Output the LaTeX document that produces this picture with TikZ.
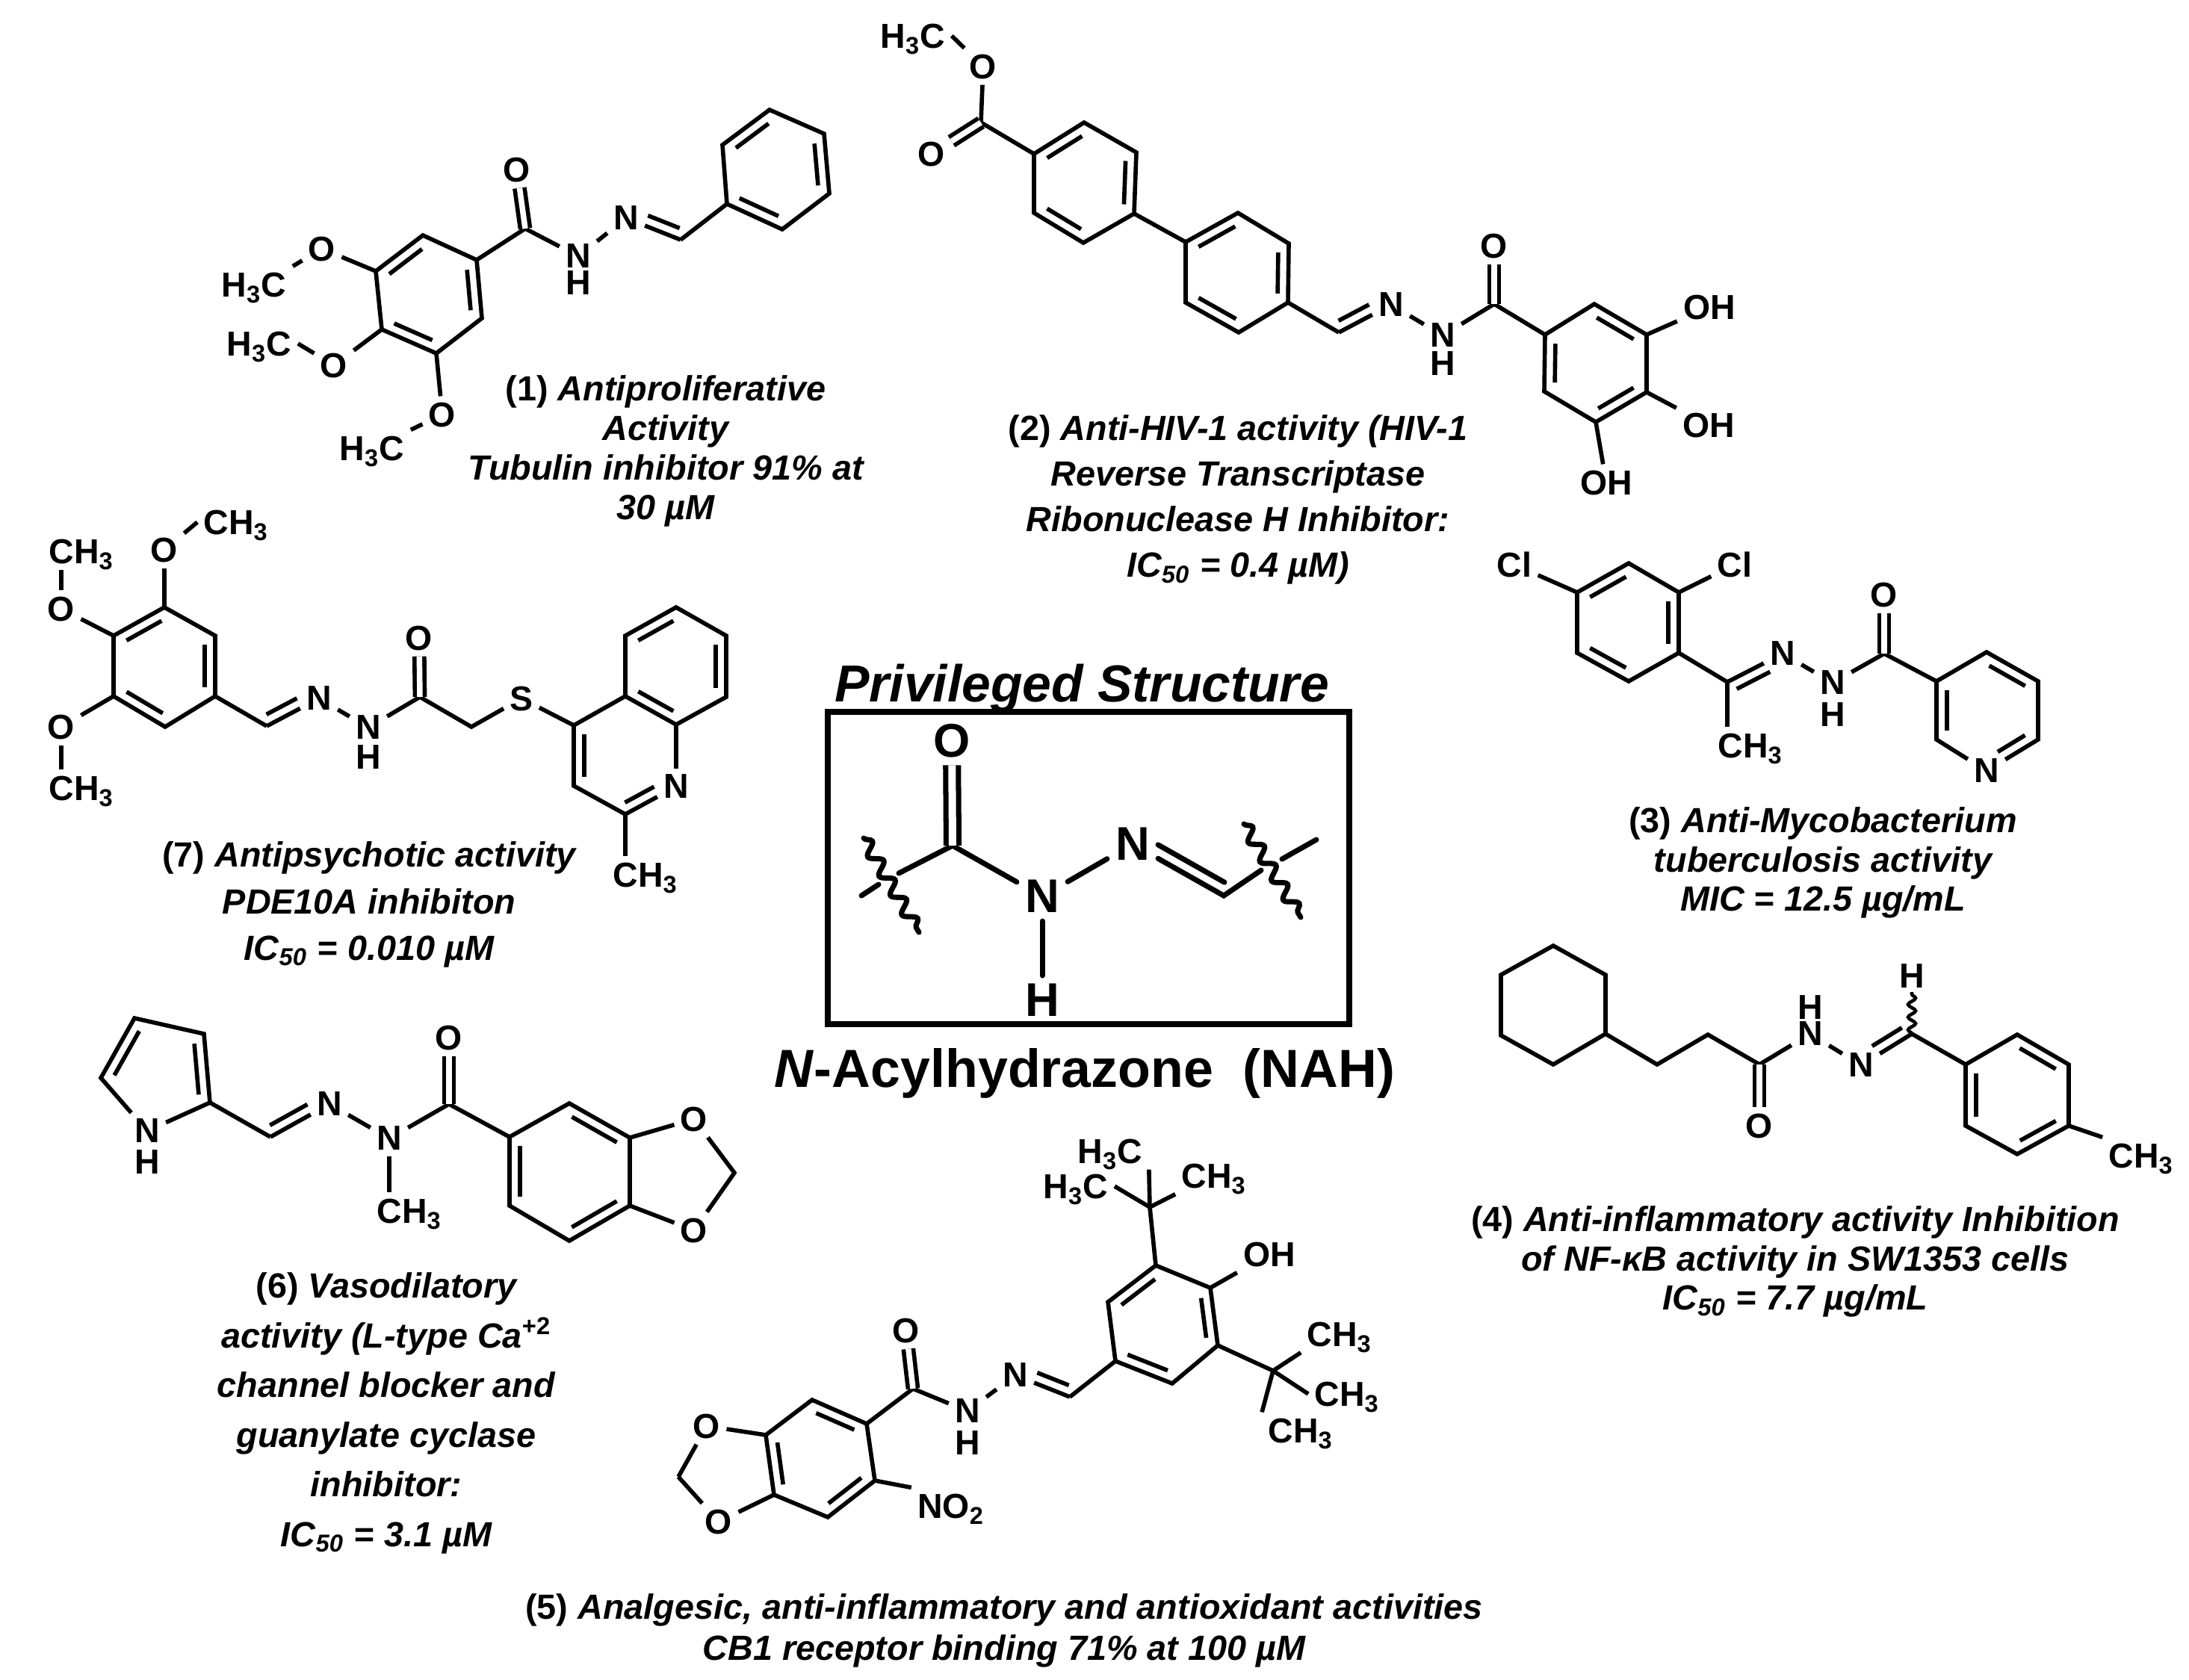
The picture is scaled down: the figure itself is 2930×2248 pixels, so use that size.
\documentclass[tikz,border=0pt]{standalone}
\usepackage{fontspec}
\setmainfont{Liberation Sans}
\usetikzlibrary{calc, decorations.pathmorphing}
\tikzset{
  bond/.style = {line width=1.6pt, line join=miter},
  dblbond/.style = {bond, double, double distance=.075cm},
  thickbond/.style = {line width=2pt, line cap=round},
  wavy/.style = {line width=2pt, line cap=round, decorate, decoration={snake, amplitude=.08cm, segment length=.3cm}},
  atom/.style = {inner sep=2.2pt, text depth=0pt, font=\fontsize{13.2}{14}\selectfont\bfseries},
  bigatom/.style = {inner sep=3pt, text depth=0pt, font=\fontsize{18}{20}\selectfont\bfseries},
  note/.style = {align=center, inner sep=0pt, font=\fontsize{13.3}{#1}\selectfont\bfseries\itshape}
}
\newcommand{\hexring}[7]{
  \coordinate (#11) at (#2); \coordinate (#12) at (#3); \coordinate (#13) at (#4);
  \coordinate (#14) at (#5); \coordinate (#15) at (#6); \coordinate (#16) at (#7);
  \draw [bond] (#11) -- (#12) -- (#13) -- (#14) -- (#15) -- (#16) -- cycle;
}
\newcommand{\inbond}[3][]{\draw [bond, shorten <=.12cm, shorten >=.12cm, #1]
  ($(#2)!.14cm!-90:(#3)$) -- ($(#3)!.14cm!90:(#2)$);}
\newcommand{\imine}[2]{\draw [bond] (#1) -- (#2);
  \inbond[shorten <=.07cm, shorten >=.26cm]{#1}{#2}}
\newcommand{\imineup}[2]{\draw [bond] (#1) -- (#2);
  \inbond[shorten <=.26cm, shorten >=.07cm]{#2}{#1}}
\newcommand{\sbs}[1]{\textsubscript{#1}}
\begin{document}
\begin{tikzpicture}[x=.01cm, y=-.01cm]
\useasboundingbox (0,0) rectangle (2930,2248);

% compound 1
\hexring{A}{566,315}{638,348}{645,426}{584,473}{511,441}{503,363}
\inbond{A6}{A1}\inbond{A2}{A3}\inbond{A4}{A5}
\hexring{B}{1030,147}{1103,179}{1110,259}{1047,307}{973,273}{967,194}
\inbond{B2}{B3}\inbond{B4}{B5}\inbond{B6}{B1}
\node [atom] (aO1) at (431,333) {O};
\node [atom] (aO2) at (447,489) {O};
\node [atom] (aO3) at (592,555) {O};
\node [atom] (aMe1) at (340,381) {H\sbs{3}C};
\node [atom] (aMe2) at (347,460) {H\sbs{3}C};
\node [atom] (aMe3) at (498,600) {H\sbs{3}C};
\node [atom] (aO) at (692,227) {O};
\node [atom] (aNH) at (774,343) {N};
\node [atom] (aH) at (774,379) {H};
\node [atom] (aN) at (838,292) {N};
\coordinate (aC) at (703,306);
\coordinate (aCH) at (911,321);
\draw [bond] (A6) -- (aO1);
\draw [bond] (A5) -- (aO2);
\draw [bond] (A4) -- (aO3);
\draw [bond] (aO1) -- (aMe1.north east);
\draw [bond] (aO2) -- (aMe2.east);
\draw [bond] (aO3) -- (aMe3.north east);
\draw [bond] (A2) -- (aC) -- (aNH);
\draw [dblbond] (aC) -- (aO);
\draw [bond] (aNH) -- (aN);
\imine{aCH}{aN}
\draw [bond] (aCH) -- (B5);
\node [note=15] (aText) at (891,604) {\textup{(1)} Antiproliferative\\Activity\\Tubulin inhibitor 91\% at\\30 µM};

% compound 2
\hexring{C}{1451,164}{1521,204}{1518,286}{1450,325}{1384,285}{1384,206}
\inbond{C6}{C1}\inbond{C2}{C3}\inbond{C4}{C5}
\hexring{D}{1657,285}{1725,326}{1724,405}{1658,445}{1587,405}{1587,324}
\inbond{D6}{D1}\inbond{D2}{D3}\inbond{D4}{D5}
\hexring{E}{2134,407}{2204,448}{2204,525}{2136,565}{2067,524}{2068,448}
\inbond{E1}{E2}\inbond{E3}{E4}\inbond{E5}{E6}
\node [atom] (bMe) at (1222,48) {H\sbs{3}C};
\node [atom] (bO1) at (1316,89) {O};
\node [atom] (bO2) at (1247,206) {O};
\node [atom] (bN) at (1862,408) {N};
\node [atom] (bNH) at (1931,449) {N};
\node [atom] (bH) at (1931,487) {H};
\node [atom] (bO) at (2000,329) {O};
\node [atom] (bOH1) at (2288,411) {OH};
\node [atom] (bOH2) at (2287,569) {OH};
\node [atom] (bOH3) at (2150,646) {OH};
\coordinate (bC1) at (1313,164);
\coordinate (bCH) at (1792,445);
\coordinate (bC) at (2000,407);
\draw [bond] (bMe.east) -- (bO1);
\draw [bond] (bO1) -- (bC1) -- (C6);
\draw [dblbond] (bC1) -- (bO2);
\draw [bond] (C3) -- (D6);
\draw [bond] (D3) -- (bCH);
\imineup{bCH}{bN}
\draw [bond] (bN) -- (bNH);
\draw [bond] (bNH) -- (bC) -- (E6);
\draw [dblbond] (bC) -- (bO);
\draw [bond] (E2) -- (bOH1);
\draw [bond] (E3) -- (bOH2);
\draw [bond] (E4) -- (bOH3);
\node [note=17.4] (bText) at (1657,669) {\textup{(2)} Anti-HIV-1 activity (HIV-1\\Reverse Transcriptase\\Ribonuclease H Inhibitor:\\IC\sbs{50} = 0.4 µM)};

% compound 3
\hexring{F}{2180,754}{2247,793}{2247,874}{2180,912}{2111,874}{2111,793}
\inbond{F6}{F1}\inbond{F2}{F3}\inbond{F4}{F5}
\node [atom] (cCl1) at (2027,756) {Cl};
\node [atom] (cCl2) at (2322,756) {Cl};
\node [atom] (cN) at (2386,875) {N};
\node [atom] (cNH) at (2453,914) {N};
\node [atom] (cH) at (2453,957) {H};
\node [atom] (cMe) at (2343,998) {CH\sbs{3}};
\node [atom] (cO) at (2522,796) {O};
\node [atom] (cNp) at (2659,1032) {N};
\coordinate (cC1) at (2312,913);
\coordinate (cC) at (2522,875);
\coordinate (p1) at (2592,912);
\coordinate (p2) at (2659,873);
\coordinate (p3) at (2728,912);
\coordinate (p4) at (2728,990);
\coordinate (p5) at (2592,990);
\draw [bond] (F6) -- (cCl1);
\draw [bond] (F2) -- (cCl2);
\draw [bond] (F3) -- (cC1);
\imine{cC1}{cN}
\draw [bond] (cC1) -- (cC1 |- cMe.north);
\draw [bond] (cN) -- (cNH);
\draw [bond] (cNH) -- (cC) -- (p1);
\draw [dblbond] (cC) -- (cO);
\draw [bond] (cNp) -- (p5) -- (p1) -- (p2) -- (p3) -- (p4) -- (cNp);
\inbond{p2}{p3}\inbond{p5}{p1}
\inbond[shorten >=.26cm]{p4}{cNp}
\node [note=15] (cText) at (2440,1155) {\textup{(3)} Anti-Mycobacterium\\tuberculosis activity\\MIC = 12.5 µg/mL};

% compound 4
\hexring{G}{2079,1266}{2149,1305}{2149,1384}{2079,1425}{2009,1386}{2009,1305}
\hexring{H}{2700,1385}{2769,1425}{2769,1507}{2700,1545}{2631,1507}{2631,1425}
\inbond{H1}{H2}\inbond{H3}{H4}\inbond{H5}{H6}
\node [atom] (dO) at (2355,1507) {O};
\node [atom] (dNH) at (2423,1384) {N};
\node [atom] (dH1) at (2423,1349) {H};
\node [atom] (dN) at (2491,1426) {N};
\node [atom] (dH2) at (2559,1307) {H};
\node [atom] (dMe) at (2866,1547) {CH\sbs{3}};
\coordinate (dC1) at (2218,1425);
\coordinate (dC2) at (2286,1385);
\coordinate (dC) at (2355,1425);
\coordinate (dCH) at (2559,1384);
\coordinate (dW) at (2559,1328);
\draw [bond] (G3) -- (dC1) -- (dC2) -- (dC) -- (dNH);
\draw [dblbond] (dC) -- (dO);
\draw [bond] (dNH) -- (dN);
\imine{dCH}{dN}
\draw [bond] (dCH) -- (H6);
\draw [bond] (H3) -- (dMe.north west);
\draw [line width=1.3pt, decorate, decoration={snake, amplitude=.05cm, segment length=.17cm}] (dCH) -- (dW);
\node [note=15] (dText) at (2403,1689) {\textup{(4)} Anti-inflammatory activity Inhibition\\of NF-κB activity in SW1353 cells\\IC\sbs{50} = 7.7 µg/mL};

% compound 5
\hexring{J}{1087,1874}{1160,1906}{1171,1982}{1108,2031}{1036,2001}{1025,1921}
\inbond{J1}{J2}\inbond{J3}{J4}\inbond{J5}{J6}
\hexring{K}{1547,1694}{1620,1724}{1630,1801}{1569,1852}{1493,1822}{1483,1743}
\inbond{K6}{K1}\inbond{K2}{K3}\inbond{K4}{K5}
\coordinate (eCH2) at (908,1977);
\node [atom] (eO1) at (946,1909) {O};
\node [atom] (eO2) at (962,2037) {O};
\node [atom] (eNO) at (1273,2016) {NO\sbs{2}};
\node [atom] (eO) at (1213,1781) {O};
\node [atom] (eNH) at (1295,1889) {N};
\node [atom] (eH) at (1295,1932) {H};
\node [atom] (eN) at (1359,1841) {N};
\node [atom] (eOH) at (1699,1679) {OH};
\node [atom] (eMe1) at (1486,1541) {H\sbs{3}C};
\node [atom] (eMe2) at (1625,1574) {CH\sbs{3}};
\node [atom] (eMe3) at (1440,1588) {H\sbs{3}C};
\node [atom] (eMe4) at (1793,1786) {CH\sbs{3}};
\node [atom] (eMe5) at (1803,1866) {CH\sbs{3}};
\node [atom] (eMe6) at (1741,1915) {CH\sbs{3}};
\coordinate (eC) at (1222,1859);
\coordinate (eCH) at (1432,1870);
\coordinate (eT1) at (1539,1616);
\coordinate (eT2) at (1704,1835);
\draw [bond] (eCH2) -- (eO1);
\draw [bond] (eCH2) -- (eO2);
\draw [bond] (eO1) -- (J6);
\draw [bond] (eO2) -- (J5);
\draw [bond] (J3) -- (eNO.north west);
\draw [bond] (J2) -- (eC) -- (eNH);
\draw [dblbond] (eC) -- (eO);
\draw [bond] (eNH) -- (eN);
\imine{eCH}{eN}
\draw [bond] (eCH) -- (K5);
\draw [bond] (K2) -- (eOH);
\draw [bond] (K1) -- (eT1);
\draw [bond] (eT1) -- (eMe1.south east);
\draw [bond] (eT1) -- (eMe2.south west);
\draw [bond] (eT1) -- (eMe3.east);
\draw [bond] (K3) -- (eT2);
\draw [bond] (eT2) -- (eMe4.south west);
\draw [bond] (eT2) -- (eMe5.west);
\draw [bond] (eT2) -- (eMe6.north west);
\node [note=15.7] (eText) at (1344,2183) {\textup{(5)} Analgesic, anti-inflammatory and antioxidant activities\\CB1 receptor binding 71\% at 100 µM};

% compound 6
\coordinate (L1) at (180,1363);
\coordinate (L2) at (273,1384);
\coordinate (L3) at (281,1476);
\coordinate (L4) at (135,1443);
\hexring{M}{762,1477}{843,1523}{843,1614}{762,1661}{682,1614}{682,1522}
\inbond{M1}{M2}\inbond{M3}{M4}\inbond{M5}{M6}
\node [atom] (fNH) at (197,1514) {N};
\node [atom] (fH) at (197,1556) {H};
\node [atom] (fN1) at (441,1478) {N};
\node [atom] (fN2) at (521,1524) {N};
\node [atom] (fMe) at (548,1621) {CH\sbs{3}};
\node [atom] (fO) at (601,1389) {O};
\node [atom] (fO1) at (929,1498) {O};
\node [atom] (fO2) at (929,1647) {O};
\coordinate (fCH) at (362,1522);
\coordinate (fC) at (601,1478);
\coordinate (fCH2) at (983,1570);
\draw [bond] (fNH) -- (L4) -- (L1) -- (L2) -- (L3) -- (fNH);
\inbond{L4}{L1}\inbond{L2}{L3}
\draw [bond] (L3) -- (fCH);
\imineup{fCH}{fN1}
\draw [bond] (fN1) -- (fN2);
\draw [bond] (fN2) -- (fC) -- (M6);
\draw [dblbond] (fC) -- (fO);
\draw [bond] (fN2) -- (fN2 |- fMe.north);
\draw [bond] (M2) -- (fO1);
\draw [bond] (M3) -- (fO2);
\draw [bond] (fO1) -- (fCH2) -- (fO2);
\node [note=18.9] (fText) at (517,1892) {\textup{(6)} Vasodilatory\\activity (L-type Ca\textsuperscript{\textup{+2}}\\channel blocker and\\guanylate cyclase\\inhibitor:\\IC\sbs{50} = 3.1 µM};

% compound 7
\hexring{P}{220,813}{288,851}{288,932}{221,973}{152,932}{152,851}
\inbond{P6}{P1}\inbond{P2}{P3}\inbond{P4}{P5}
\hexring{Q}{905,813}{972,851}{972,933}{905,970}{837,932}{837,851}
\inbond{Q6}{Q1}\inbond{Q2}{Q3}\inbond{Q4}{Q5}
\node [atom] (gMe1) at (316,699) {CH\sbs{3}};
\node [atom] (gMe2) at (109,738) {CH\sbs{3}};
\node [atom] (gMe3) at (109,1055) {CH\sbs{3}};
\node [atom] (gO1) at (220,736) {O};
\node [atom] (gO2) at (82,815) {O};
\node [atom] (gO3) at (82,973) {O};
\node [atom] (gN1) at (427,935) {N};
\node [atom] (gNH) at (493,974) {N};
\node [atom] (gH) at (493,1014) {H};
\node [atom] (gO) at (561,854) {O};
\node [atom] (gS) at (698,935) {S};
\node [atom] (gN2) at (905,1053) {N};
\node [atom] (gMe4) at (864,1171) {CH\sbs{3}};
\coordinate (gCH) at (357,972);
\coordinate (gC) at (562,933);
\coordinate (gCH2) at (631,973);
\coordinate (g4) at (768,971);
\coordinate (g3) at (768,1052);
\coordinate (g2) at (837,1090);
\draw [bond] (P1) -- (gO1);
\draw [bond] (gO1) -- (gMe1.west);
\draw [bond] (P6) -- (gO2);
\draw [bond] (gO2) -- (gO2 |- gMe2.south);
\draw [bond] (P5) -- (gO3);
\draw [bond] (gO3) -- (gO3 |- gMe3.north);
\draw [bond] (P3) -- (gCH);
\imineup{gCH}{gN1}
\draw [bond] (gN1) -- (gNH);
\draw [bond] (gNH) -- (gC) -- (gCH2) -- (gS) -- (g4);
\draw [dblbond] (gC) -- (gO);
\draw [bond] (g4) -- (Q5);
\draw [bond] (g4) -- (g3) -- (g2);
\draw [bond] (gN2) -- (Q4);
\inbond{g3}{g4}
\imineup{g2}{gN2}
\draw [bond] (g2) -- (g2 |- gMe4.north);
\node [note=17.7] (gText) at (494,1211) {\textup{(7)} Antipsychotic activity\\PDE10A inhibiton\\IC\sbs{50} = 0.010 µM};

% privileged structure
\draw [line width=2.1pt] (1108,953) rectangle (1806,1371);
\node [font=\fontsize{19.8}{22}\selectfont\bfseries\itshape, inner sep=0pt] (title) at (1448,921) {Privileged Structure};
\node [font=\fontsize{20.4}{22}\selectfont\bfseries, inner sep=0pt] (name) at (1452,1437) {\textit{N}-Acylhydrazone\ \ (NAH)};
\node [bigatom] (hO) at (1274,991) {O};
\node [bigatom] (hNH) at (1395,1200) {N};
\node [bigatom] (hH) at (1395,1339) {H};
\node [bigatom] (hN) at (1516,1130) {N};
\coordinate (hC) at (1275,1132);
\coordinate (hCH) at (1638,1199);
\coordinate (hL1) at (1203,1169);
\coordinate (hL2) at (1176,1184);
\coordinate (hL3) at (1153,1199);
\coordinate (hR1) at (1688,1165);
\coordinate (hR2) at (1716,1150);
\coordinate (hR3) at (1762,1124);
\coordinate (hW1) at (1156,1122);
\coordinate (hW2) at (1230,1248);
\coordinate (hW3) at (1665,1103);
\coordinate (hW4) at (1741,1228);
\draw [thickbond] (hL1) -- (hC) -- (hNH);
\draw [thickbond] (hL2) -- (hL3);
\draw [line width=2pt, double, double distance=.1cm] (hC) -- (hO);
\draw [thickbond] (hNH) -- (hH);
\draw [thickbond] (hNH) -- (hN);
\draw [thickbond] (hN) -- (hCH) -- (hR1);
\draw [thickbond, shorten <=.3cm, shorten >=.08cm] ($(hN)!.16cm!90:(hCH)$) -- ($(hCH)!.16cm!-90:(hN)$);
\draw [thickbond] (hR2) -- (hR3);
\draw [wavy] (hW1) -- (hW2);
\draw [wavy] (hW3) -- (hW4);
\end{tikzpicture}
\end{document}
